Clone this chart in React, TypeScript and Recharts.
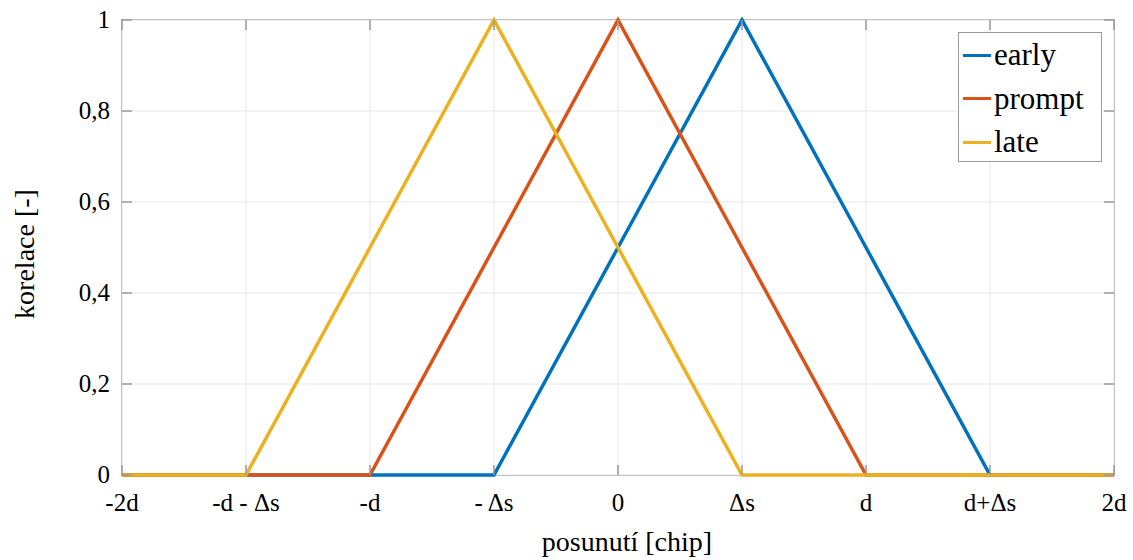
import { CartesianGrid, Line, LineChart, XAxis, YAxis } from 'recharts';

// posunutí v jednotkách (-2d ... 2d), stejné rozestupy
const shifts = [-4, -3, -2, -1, 0, 1, 2, 3, 4];
const shiftLabels = ['-2d', '-d - \u0394s', '-d', '- \u0394s', '0', '\u0394s', 'd', 'd+\u0394s', '2d'];
const earlyValues = [0, 0, 0, 0, 0.5, 1, 0.5, 0, 0];
const promptValues = [0, 0, 0, 0.5, 1, 0.5, 0, 0, 0];
const lateValues = [0, 0, 0.5, 1, 0.5, 0, 0, 0, 0];
const yTicks = [0, 0.2, 0.4, 0.6, 0.8, 1];

const series = [
  { key: 'early', color: '#0072BD', values: earlyValues },
  { key: 'prompt', color: '#D95319', values: promptValues },
  { key: 'late', color: '#EDB120', values: lateValues }
];

const data = shifts.map((x, i) => ({
  x,
  early: earlyValues[i],
  prompt: promptValues[i],
  late: lateValues[i]
}));

const W = 1133;
const H = 560;
const PLOT = { left: 122, right: 1114, top: 20, bottom: 475 };
const FONT =
  "'Liberation Serif', LiberationSerif, 'Times New Roman', Times, Tinos, 'Noto Serif', 'Nimbus Roman', 'FreeSerif', 'DejaVu Serif', serif";
const axisColor = '#9a9a9a';
const tickLen = 10;

const XTick = ({ x, payload }: any) => (
  <g>
    <line x1={x} y1={PLOT.bottom} x2={x} y2={PLOT.bottom - tickLen} stroke={axisColor} strokeWidth={1.5} />
    <line x1={x} y1={PLOT.top} x2={x} y2={PLOT.top + tickLen} stroke={axisColor} strokeWidth={1.5} />
    <text x={x} y={PLOT.bottom + 36} textAnchor="middle" style={{ fontFamily: FONT }} fontSize={25} fill="#000">
      {shiftLabels[shifts.indexOf(payload.value)]}
    </text>
  </g>
);

const YTick = ({ y, payload }: any) => (
  <g>
    <line x1={PLOT.left} y1={y} x2={PLOT.left + tickLen} y2={y} stroke={axisColor} strokeWidth={1.5} />
    <line x1={PLOT.right} y1={y} x2={PLOT.right - tickLen} y2={y} stroke={axisColor} strokeWidth={1.5} />
    <text x={110} y={y + 8} textAnchor="end" style={{ fontFamily: FONT }} fontSize={25} fill="#000">
      {String(payload.value).replace('.', ',')}
    </text>
  </g>
);

const ChartLegend = () => (
  <div
    style={{
      position: 'absolute',
      left: 958,
      top: 32,
      width: 142,
      height: 128,
      border: `1.5px solid ${axisColor}`,
      background: '#fff',
      fontFamily: FONT,
      fontSize: 31
    }}
  >
    {series.map((s, i) => (
      <div key={s.key} style={{ position: 'absolute', left: 0, top: i * 43.5, height: 44, display: 'flex', alignItems: 'center' }}>
        <span style={{ display: 'inline-block', width: 28, height: 3, background: s.color, marginLeft: 4, marginRight: 3 }} />
        <span style={{ lineHeight: '44px' }}>{s.key}</span>
      </div>
    ))}
  </div>
);

export default function App() {
  return (
    <div style={{ position: 'absolute', left: 0, top: 0, width: W, height: H, background: '#fff' }}>
      {/* rámeček grafu pod čarami */}
      <div
        style={{
          position: 'absolute',
          left: PLOT.left - 0.75,
          top: PLOT.top - 0.75,
          width: PLOT.right - PLOT.left,
          height: PLOT.bottom - PLOT.top,
          border: `1.5px solid ${axisColor}`
        }}
      />
      <div style={{ position: 'absolute', left: 0, top: 0 }}>
        <LineChart
          width={W}
          height={H}
          data={data}
          margin={{ top: PLOT.top, right: W - PLOT.right, bottom: 0, left: 0 }}
        >
          <CartesianGrid stroke="#e6e6e6" strokeWidth={1} />
          <XAxis
            dataKey="x"
            type="number"
            domain={[-4, 4]}
            ticks={shifts}
            height={H - PLOT.bottom}
            axisLine={false}
            tickLine={false}
            tickSize={0}
            tick={<XTick />}
            interval={0}
            label={{
              content: () => (
                <text x={627} y={551} textAnchor="middle" style={{ fontFamily: FONT }} fontSize={28} fill="#000">
                  posunutí [chip]
                </text>
              )
            }}
          />
          <YAxis
            domain={[0, 1]}
            ticks={yTicks}
            width={PLOT.left}
            axisLine={false}
            tickLine={false}
            tickSize={0}
            tick={<YTick />}
            interval={0}
            label={{
              content: () => (
                <text x={34} y={254} transform="rotate(-90 34 254)" textAnchor="middle" style={{ fontFamily: FONT }} fontSize={28} fill="#000">
                  korelace [-]
                </text>
              )
            }}
          />
          {series.map((s) => (
            <Line
              key={s.key}
              type="linear"
              dataKey={s.key}
              stroke={s.color}
              strokeWidth={3.5}
              dot={false}
              activeDot={false}
              isAnimationActive={false}
            />
          ))}
        </LineChart>
      </div>
      <ChartLegend />
    </div>
  );
}
